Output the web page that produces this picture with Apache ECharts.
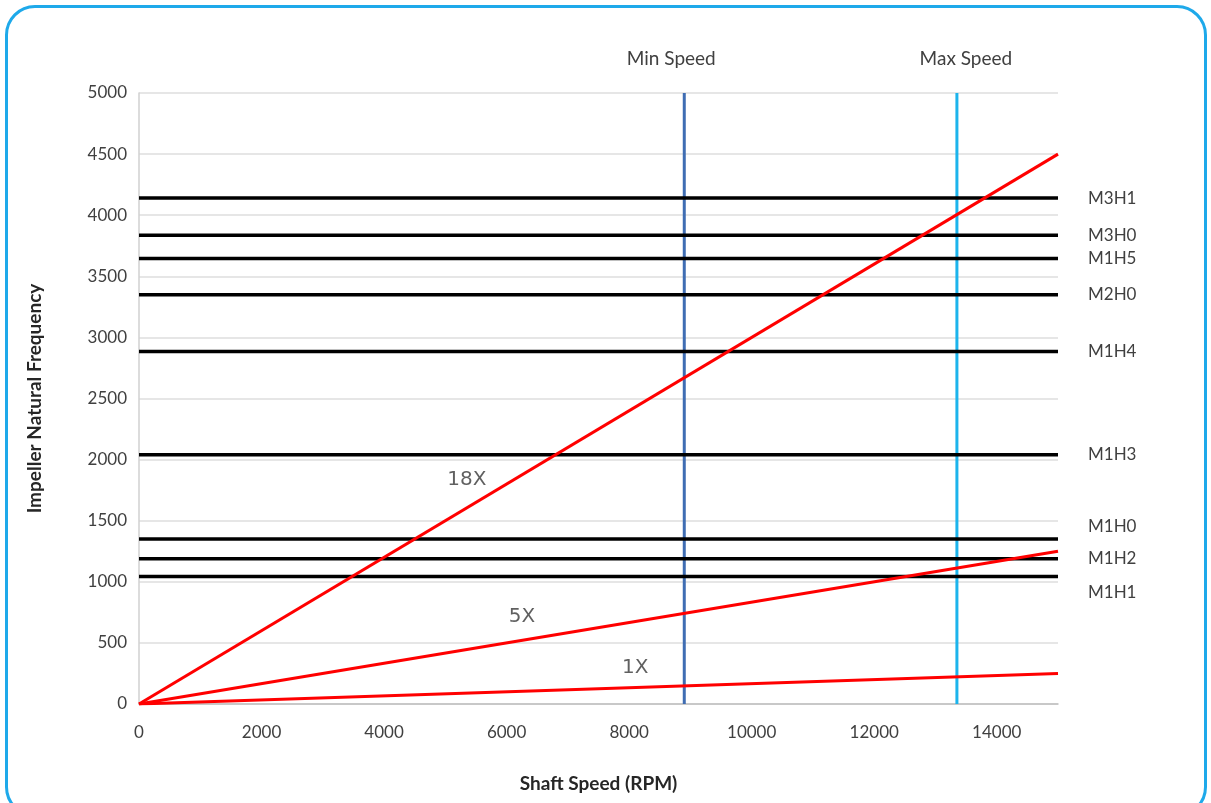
<!DOCTYPE html>
<html>
<head>
<meta charset="utf-8">
<title>Impeller Natural Frequency vs Shaft Speed</title>
<script src="https://cdn.jsdelivr.net/npm/echarts@6/dist/echarts.min.js"></script>
<style>
  html, body { margin: 0; padding: 0; background: #ffffff; overflow: hidden; }
  #frame {
    position: absolute; left: 5px; top: 5px; width: 1202px; height: 812px;
    border: 3px solid #1ea9ea; border-radius: 30px; box-sizing: border-box;
  }
  #chart { position: absolute; left: 0; top: 0; width: 1211px; height: 803px; }
</style>
</head>
<body>
<div id="frame"></div>
<div id="chart"></div>
<script>
// Shaft speed range (RPM)
const speedRange = [0, 15000];
const xTicks = [0, 2000, 4000, 6000, 8000, 10000, 12000, 14000];

// Running-speed harmonics: frequency reached at the top of the speed range
const harmonicNames = ['1X', '5X', '18X'];
const harmonicEndFreq = [250, 1250, 4500];
// where each harmonic name is written (speed, frequency)
const harmonicTagAt = [[8100, 300], [6250, 715], [5350, 1835]];

// Impeller natural-frequency modes
const modeNames = ['M3H1', 'M3H0', 'M1H5', 'M2H0', 'M1H4', 'M1H3', 'M1H0', 'M1H2', 'M1H1'];
const modeFreqs = [4140, 3835, 3645, 3350, 2885, 2040, 1350, 1188, 1043];
// vertical nudge of each mode name (px), so close names don't collide
const modeTagShift = [0, 0, 0, 0, 0, 0, -13, 0, 16];

// Operating speed limits
const limitNames = ['Min Speed', 'Max Speed'];
const limitSpeeds = [8900, 13350];
const limitColors = ['#3f6db3', '#1cb4ec'];
const limitTagShift = [-13, 9];

const freqMax = 5000;
const axisFont = 'Lato, "Noto Sans", sans-serif';

const series = [];

// speed limits (drawn first, below everything else)
limitNames.forEach((name, i) => {
  series.push({
    name: name, type: 'line', symbol: 'circle', symbolSize: 0, showSymbol: true, z: 2,
    lineStyle: { color: limitColors[i], width: 3 },
    itemStyle: { color: limitColors[i] },
    data: [
      [limitSpeeds[i], 0],
      { value: [limitSpeeds[i], freqMax],
        label: { show: true, position: 'top', distance: 25, offset: [limitTagShift[i], 0],
                 formatter: name, color: '#404040', fontSize: 19, fontFamily: axisFont } }
    ]
  });
});

// natural-frequency modes
modeNames.forEach((name, i) => {
  series.push({
    name: name, type: 'line', symbol: 'circle', symbolSize: 0, showSymbol: true, z: 3,
    lineStyle: { color: '#000000', width: 3.5 },
    itemStyle: { color: '#000000' },
    data: [
      [speedRange[0], modeFreqs[i]],
      { value: [speedRange[1], modeFreqs[i]],
        label: { show: true, position: 'right', distance: 30, offset: [0, modeTagShift[i]],
                 formatter: name, color: '#404040', fontSize: 17, fontFamily: axisFont } }
    ]
  });
});

// harmonic lines
harmonicNames.forEach((name, i) => {
  series.push({
    name: name, type: 'line', symbol: 'none', z: 4,
    lineStyle: { color: '#ff0000', width: 3 },
    data: [[speedRange[0], 0], [speedRange[1], harmonicEndFreq[i]]]
  });
});

// harmonic names
series.push({
  name: 'harmonic tags', type: 'scatter', symbolSize: 0, z: 5,
  data: harmonicNames.map((n, i) => ({ name: n, value: harmonicTagAt[i] })),
  label: { show: true, position: 'inside', formatter: p => p.name,
           color: '#383838', fontSize: 20, fontFamily: '"DejaVu Sans", sans-serif' }
});

const chart = echarts.init(document.getElementById('chart'), null, { renderer: 'canvas' });
chart.setOption({
  animation: false,
  backgroundColor: 'transparent',
  grid: { left: 139, right: 153, top: 93, bottom: 99, containLabel: false },
  xAxis: {
    type: 'value', min: speedRange[0], max: speedRange[1], interval: 2000,
    name: 'Shaft Speed (RPM)', nameLocation: 'middle', nameGap: 70,
    nameTextStyle: { color: '#262626', fontSize: 19, fontWeight: 'bold', fontFamily: axisFont },
    axisLine: { show: true, lineStyle: { color: '#bfbfbf', width: 1.5 } },
    axisTick: { show: false },
    splitLine: { show: false },
    axisLabel: { color: '#404040', fontSize: 17, fontFamily: axisFont, margin: 20,
                 showMaxLabel: false,
                 formatter: v => (xTicks.indexOf(v) >= 0 ? String(v) : '') }
  },
  yAxis: {
    type: 'value', min: 0, max: freqMax, interval: 500,
    name: 'Impeller Natural Frequency', nameLocation: 'middle', nameGap: 95,
    nameTextStyle: { color: '#262626', fontSize: 19, fontWeight: 'bold', fontFamily: axisFont },
    axisLine: { show: true, lineStyle: { color: '#d0d0d0', width: 1.5 } },
    axisTick: { show: false },
    splitLine: { show: true, lineStyle: { color: '#dedede', width: 1.5 } },
    axisLabel: { color: '#404040', fontSize: 17, fontFamily: axisFont, margin: 12,
                 formatter: v => String(v) }
  },
  series: series
});
</script>
</body>
</html>
